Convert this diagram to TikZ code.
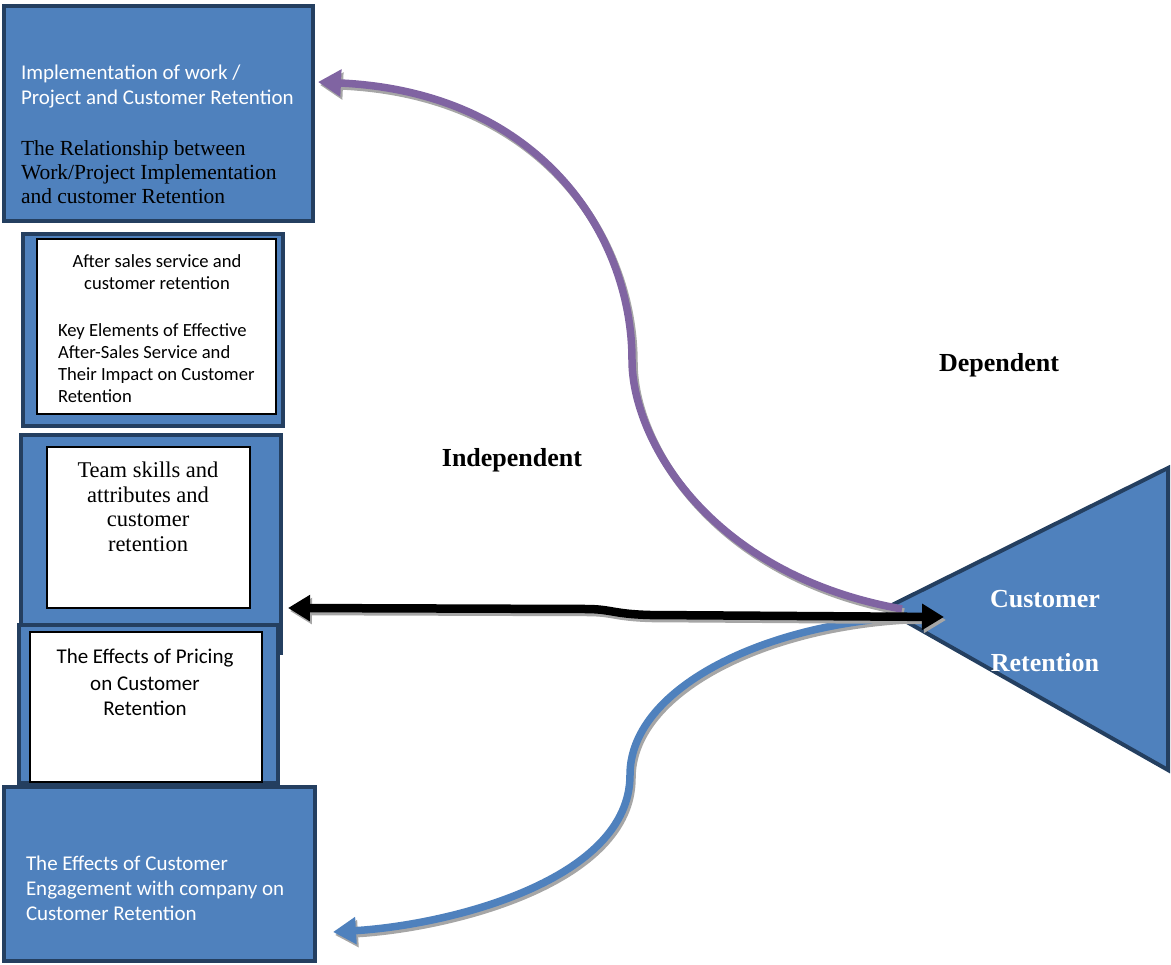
\documentclass[tikz,border=0pt]{standalone}
\usepackage{fontspec}
\setmainfont{Liberation Serif}
\newfontfamily\calibri{Carlito}
\usetikzlibrary{arrows.meta}
\definecolor{boxblue}{HTML}{4F81BD}
\definecolor{navy}{HTML}{243F60}
\definecolor{arrpurple}{HTML}{8064A2}
\definecolor{shadowgray}{HTML}{A6A6A6}
\begin{document}
\begin{tikzpicture}[x=1pt,y=-1pt,
  bluebox/.style={draw=navy, fill=boxblue, line width=4.5pt, anchor=north west, inner sep=0pt, outer sep=0pt},
  whitebox/.style={draw=black, fill=white, line width=1.6pt, anchor=north west, inner sep=0pt, outer sep=0pt},
  txt/.style={inner sep=0pt, outer sep=0pt},
  calw/.style={txt, text=white, font=\calibri\fontsize{21}{25}\selectfont},
  calb/.style={txt, text=black, font=\calibri\fontsize{21}{25}\selectfont},
  calsmall/.style={txt, text=black, font=\calibri\fontsize{18.6}{22}\selectfont},
  serb/.style={txt, text=black, font=\fontsize{21.5}{24}\selectfont},
  serteam/.style={txt, text=black, font=\fontsize{22.5}{25}\selectfont},
  bigbold/.style={txt, font=\bfseries\fontsize{26}{30}\selectfont},
  purplearrow/.style={draw=arrpurple, line width=7.5pt, -{Triangle[length=23pt,width=26pt]}},
  bluearrow/.style={draw=boxblue, line width=7.5pt, -{Triangle[length=23pt,width=26pt]}},
  blackarrow/.style={draw=black, line width=8.5pt, {Triangle[length=22pt,width=25pt]}-{Triangle[length=22pt,width=25pt]}},
  shadowcurve/.style={draw=shadowgray, line width=7.5pt, -{Triangle[length=23pt,width=26pt]}, transform canvas={xshift=2pt,yshift=-3pt}},
  shadowblack/.style={draw=shadowgray, line width=8.5pt, {Triangle[length=22pt,width=25pt]}-{Triangle[length=22pt,width=25pt]}, transform canvas={xshift=2pt,yshift=-3pt}},
  trishape/.style={draw=navy, fill=boxblue, line width=4pt, line join=miter}
]
\useasboundingbox (0,0) rectangle (1171,965);

% boxes
\node[bluebox, minimum width=309pt, minimum height=215pt] (b1) at (4,6) {};
\node[bluebox, minimum width=260pt, minimum height=192pt] (b2) at (23,234) {};
\node[whitebox, minimum width=239pt, minimum height=175pt] (w2) at (37,239) {};
\node[bluebox, minimum width=260pt, minimum height=218pt] (b3) at (21,435) {};
\node[whitebox, minimum width=203pt, minimum height=161pt] (w3) at (47,447) {};
\node[bluebox, minimum width=259pt, minimum height=158pt] (b4) at (19,625) {};
\node[whitebox, minimum width=232pt, minimum height=150pt] (w4) at (30,632) {};
\node[bluebox, minimum width=311pt, minimum height=174pt] (b5) at (4,787) {};

% triangle
\coordinate (apex) at (884,609);
\coordinate (ttop) at (1168,468);
\coordinate (tbot) at (1168,770);
\draw[trishape] (apex) -- (ttop) -- (tbot) -- cycle;

% box 1 texts
\node[calw, anchor=base west] (t1a) at (21,80) {Implementation of work /};
\node[calw, anchor=base west] (t1b) at (21,105) {Project and Customer Retention};
\node[serb, anchor=base west] (t1c) at (21,156) {The Relationship between};
\node[serb, anchor=base west] (t1d) at (21,180) {Work/Project Implementation};
\node[serb, anchor=base west] (t1e) at (21,204) {and customer Retention};

% box 2 texts
\node[calsmall, anchor=base] (t2a) at (157,268) {After sales service and};
\node[calsmall, anchor=base] (t2b) at (157,290) {customer retention};
\node[calsmall, anchor=base west] (t2c) at (58,337) {Key Elements of Effective};
\node[calsmall, anchor=base west] (t2d) at (58,359) {After-Sales Service and};
\node[calsmall, anchor=base west] (t2e) at (58,381) {Their Impact on Customer};
\node[calsmall, anchor=base west] (t2f) at (58,403) {Retention};

% box 3 texts
\node[serteam, anchor=base] (t3a) at (148,478) {Team skills and};
\node[serteam, anchor=base] (t3b) at (148,503) {attributes and};
\node[serteam, anchor=base] (t3c) at (148,527) {customer};
\node[serteam, anchor=base] (t3d) at (148,552) {retention};

% box 4 texts
\node[calb, anchor=base] (t4a) at (145,663) {The Effects of Pricing};
\node[calb, anchor=base] (t4b) at (145,690) {on Customer};
\node[calb, anchor=base] (t4c) at (145,715) {Retention};

% box 5 texts
\node[calw, anchor=base west] (t5a) at (26,870) {The Effects of Customer};
\node[calw, anchor=base west] (t5b) at (26,895) {Engagement with company on};
\node[calw, anchor=base west] (t5c) at (26,920) {Customer Retention};

% triangle text
\node[bigbold, text=white, anchor=base] (cr1) at (1045,608) {Customer};
\node[bigbold, text=white, anchor=base] (cr2) at (1045,671) {Retention};

% labels
\node[bigbold, text=black, anchor=base] (dep) at (999,372) {Dependent};
\node[bigbold, text=black, anchor=base] (indep) at (512,467) {Independent};

% connector end points
\coordinate (ptip) at (318,82);
\coordinate (pend) at (902,609);
\coordinate (btip) at (333,932);
\coordinate (bend) at (905,617);
\coordinate (kl) at (288,608);
\coordinate (kr) at (944,617);

% purple
\draw[shadowcurve] (pend) .. controls (710,575) and (632,440) .. (632,360) .. controls (632,235) and (540,92) .. (ptip);
\draw[purplearrow] (pend) .. controls (710,575) and (632,440) .. (632,360) .. controls (632,235) and (540,92) .. (ptip);

% blue
\draw[shadowcurve] (bend) .. controls (760,625) and (630,690) .. (630,775) .. controls (630,880) and (450,925) .. (btip);
\draw[bluearrow] (bend) .. controls (760,625) and (630,690) .. (630,775) .. controls (630,880) and (450,925) .. (btip);

% black double arrow
\draw[shadowblack] (kl) -- (585,609) .. controls (612,609) and (612,614) .. (650,615) -- (kr);
\draw[blackarrow] (kl) -- (585,609) .. controls (612,609) and (612,614) .. (650,615) -- (kr);
\end{tikzpicture}
\end{document}
